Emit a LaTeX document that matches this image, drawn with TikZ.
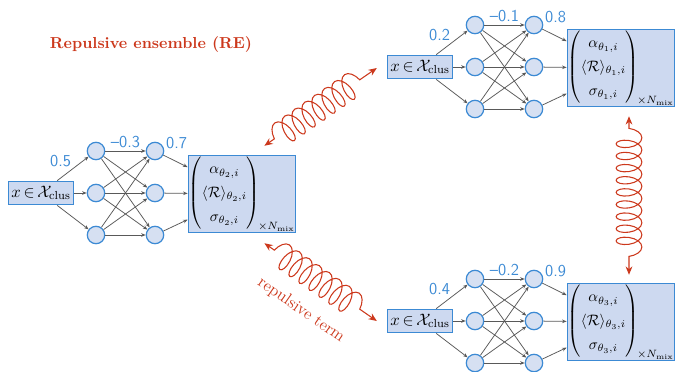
\documentclass[tikz,border=0pt]{standalone}
\usepackage{amsmath}
\usetikzlibrary{arrows.meta,decorations.pathmorphing,calc}

\definecolor{netblue}{RGB}{60,138,212}
\definecolor{nodefill}{RGB}{214,224,242}
\definecolor{boxfill}{RGB}{205,217,240}
\definecolor{repred}{RGB}{204,56,28}

\begin{document}
\begin{tikzpicture}[x=0.66pt,y=-0.66pt,
		neuron/.style={circle,draw=netblue,fill=nodefill,line width=0.8pt,inner sep=0pt,minimum size=11.5pt},
		inbox/.style={draw=netblue,fill=boxfill,line width=0.8pt,inner sep=1pt,minimum width=43pt,minimum height=15.5pt,font=\fontsize{11}{13}\selectfont},
		outbox/.style={draw=netblue,fill=boxfill,line width=0.8pt,inner sep=0pt,minimum width=71pt,minimum height=51pt,font=\fontsize{10}{12}\selectfont},
		conn/.style={draw=black!65,line width=0.5pt,-{Stealth[length=3pt,width=2.4pt]}},
		weight/.style={text=netblue,font=\sffamily\fontsize{11}{13}\selectfont,inner sep=1pt},
		spring/.style={draw=repred,line width=0.7pt,{Stealth[length=5.5pt,width=4.5pt]}-{Stealth[length=5.5pt,width=4.5pt]},
			decorate,decoration={coil,amplitude=8.5pt,segment length=8pt,pre length=8pt,post length=8pt}}]
	\useasboundingbox (0,0) rectangle (683,371);

	\node[text=repred,font=\bfseries\fontsize{10.5}{12}\selectfont] (title) at (151,45) {Repulsive ensemble (RE)};

	% three copies of the same network
	\foreach \n/\x/\y/\t/\wa/\wb/\wc in {L/41/193/2/0.5/--0.3/0.7, T/420/67/1/0.2/--0.1/0.8, B/420/321/3/0.4/--0.2/0.9} {
		\begin{scope}[shift={(\x,\y)}]
			\node[inbox]	(\n-in)	at (0,0)	{$x\,{\in}\,\mathcal{X}_\text{clus}$};
			\foreach \k/\dy in {1/-42,2/0,3/42} {
				\node[neuron]	(\n-a\k)	at (55,\dy)		{};
				\node[neuron]	(\n-b\k)	at (114,\dy)	{};
			}
			\node[outbox]	(\n-out)	at (201,1)	{\renewcommand{\arraystretch}{1.3}$\begin{pmatrix}\alpha_{\theta_\t,i}\\ \langle\mathcal{R}\rangle_{\theta_\t,i}\\ \sigma_{\theta_\t,i}\end{pmatrix}_{\!\times N_\text{mix}}$};

			\draw[conn] (\n-in) -- node[weight,above left=0pt] {\wa} (\n-a1);
			\draw[conn] (\n-in) -- (\n-a2);
			\draw[conn] (\n-in) -- (\n-a3);
			\draw[conn] (\n-a1) -- node[weight,above=1pt] {\wb} (\n-b1);
			\foreach \k in {1,2,3} {
				\foreach \j in {1,2,3} {
					\ifnum\k=\j \ifnum\k=1 \else \draw[conn] (\n-a\k) -- (\n-b\j); \fi
					\else \draw[conn] (\n-a\k) -- (\n-b\j); \fi
				}
				\draw[conn] (\n-b\k) -- (\n-out);
			}
			\node[weight,anchor=south west] (\n-wout) at (\n-b1.east) {\wc};
		\end{scope}
	}

	% repulsion between the members
	\draw[spring] ($(L-out.north east)+(-32,-9)$) -- ($(T-in.west)+(-10,1)$);
	\draw[spring] ($(L-out.south east)+(-32,10)$) -- node[sloped,below=14pt,text=repred,font=\fontsize{11}{13}\selectfont] {repulsive term} ($(B-in.west)+(-10,0)$);
	\draw[spring] ($(T-out.south)+(8,9)$) -- ($(B-out.north)+(8,-8)$);
\end{tikzpicture}
\end{document}
